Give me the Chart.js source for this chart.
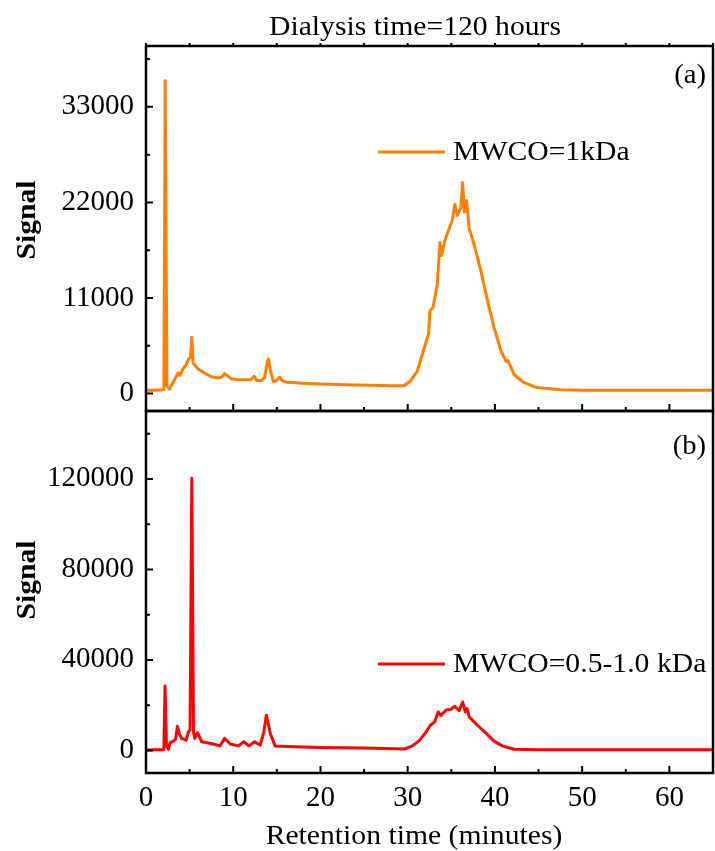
<!DOCTYPE html>
<html>
<head>
<meta charset="utf-8">
<script src="https://cdn.jsdelivr.net/npm/chart.js@4"></script>
<style>
  body { margin: 0; background: #fff; }
  #wrap { position: relative; width: 715px; height: 851px; }
  canvas { position: absolute; left: 0; }
  #topChart { top: 0; }
  #bottomChart { top: 409px; }
</style>
</head>
<body>
<div id="wrap">
  <canvas id="topChart" width="715" height="413"></canvas>
  <canvas id="bottomChart" width="715" height="442"></canvas>
</div>
<script>
// Retention time (minutes) and signal for MWCO=1kDa, panel (a)
const timeA = [0, 1, 2.05, 2.2, 2.4, 2.7, 3.2, 3.5, 3.7, 3.9, 4.2, 4.6, 4.9, 5.1, 5.25, 5.4, 5.6, 6.0, 6.5, 7.0, 7.6, 8.3, 8.7, 9.0, 9.4, 9.8, 10.5, 11.2, 12.0, 12.4, 12.7, 13.2, 13.6, 13.9, 14.05, 14.3, 14.6, 15.0, 15.3, 15.6, 16.2, 18, 20, 22, 24, 26, 28, 29.6, 30.3, 31.1, 31.8, 32.4, 32.55, 32.9, 33.4, 33.7, 33.9, 34.25, 34.75, 35.1, 35.4, 35.7, 36.1, 36.3, 36.5, 36.75, 37.05, 37.6, 38.4, 39.15, 39.9, 40.7, 41.3, 41.5, 42.2, 43.3, 44.8, 47.6, 50, 55, 60, 65];
const signalA = [400, 400, 450, 36000, 900, 500, 1500, 2000, 2400, 2100, 2800, 3300, 4000, 4200, 6500, 3500, 3300, 2800, 2500, 2200, 1900, 1800, 1900, 2300, 2000, 1700, 1600, 1600, 1600, 2000, 1500, 1500, 1800, 3600, 4000, 2500, 1400, 1500, 1900, 1500, 1300, 1200, 1100, 1050, 1000, 950, 900, 900, 1450, 2600, 4900, 6900, 9500, 9900, 12600, 17400, 15900, 17600, 19000, 19900, 21800, 20500, 21400, 24300, 20900, 22200, 19000, 17200, 14100, 10700, 7600, 4900, 3700, 3800, 2200, 1300, 700, 450, 400, 400, 380, 380];

// Retention time (minutes) and signal for MWCO=0.5-1.0 kDa, panel (b)
const timeB = [0, 1, 2.05, 2.18, 2.35, 2.57, 2.76, 3.1, 3.4, 3.6, 3.85, 4.1, 4.6, 4.87, 5.05, 5.25, 5.45, 5.6, 5.9, 6.4, 7.7, 8.5, 9.0, 9.66, 10.6, 11.2, 11.8, 12.45, 13.1, 13.5, 13.8, 14.25, 14.8, 17, 20, 25, 29.6, 30.5, 31.3, 32.0, 32.6, 33.1, 33.5, 33.8, 34.4, 34.9, 35.4, 35.9, 36.3, 36.6, 36.8, 37.05, 38.0, 39.0, 39.9, 40.9, 42.2, 45, 50, 55, 60, 65];
const signalB = [200, 300, 300, 28500, 2000, 500, 3400, 4000, 5000, 10700, 7000, 5300, 4500, 8200, 9000, 120300, 8000, 5300, 7800, 3800, 2800, 2000, 5300, 2800, 2000, 3800, 2000, 3800, 2300, 8000, 15500, 7500, 1900, 1600, 1300, 1000, 600, 1900, 4200, 7500, 11100, 12600, 17000, 15500, 17800, 18100, 19500, 17500, 21400, 17000, 18500, 14800, 11100, 7500, 4100, 1900, 500, 300, 300, 300, 300, 300];

// Tick labels
const xLabels = [0, 10, 20, 30, 40, 50, 60];
const xMinor = [5, 15, 25, 35, 45, 55, 65];
const yLabelsA = [0, 11000, 22000, 33000];
const yMinorA = [5500, 16500, 27500, 38500];
const yLabelsB = [0, 40000, 80000, 120000];
const yMinorB = [20000, 60000, 100000, 140000];

const serif = 'Liberation Serif, Times New Roman, serif';
const tickFont = { family: serif, size: 29 };

function toPoints(xs, ys) {
    return xs.map((t, i) => ({ x: t, y: ys[i] }));
}

function buildTicks(major, minor) {
    return major.map(v => ({ value: v, isMajor: true }))
        .concat(minor.map(v => ({ value: v, isMajor: false })))
        .sort((a, b) => a.value - b.value);
}

// Box frame and inward tick marks
const framePlugin = {
    id: 'frame',
    afterDatasetsDraw(chart, args, opts) {
        const { ctx, chartArea: a, scales: { x, y } } = chart;
        ctx.save();
        ctx.strokeStyle = '#000';
        ctx.lineWidth = 2.5;
        ctx.strokeRect(a.left, a.top, a.right - a.left, a.bottom - a.top);
        ctx.lineWidth = 2;
        ctx.beginPath();
        y.ticks.forEach(t => {
            const py = y.getPixelForValue(t.value);
            ctx.moveTo(a.left, py);
            ctx.lineTo(a.left + (t.isMajor ? 7 : 4), py);
        });
        x.ticks.forEach(t => {
            const px = x.getPixelForValue(t.value);
            ctx.moveTo(px, a.bottom);
            ctx.lineTo(px, a.bottom - (t.isMajor ? 7 : 4));
            if (opts.topTicks) {
                ctx.moveTo(px, a.top);
                ctx.lineTo(px, a.top - 3);
            }
        });
        ctx.stroke();
        ctx.restore();
    }
};

// Titles, panel letters and the legend drawn at fixed spots
const textPlugin = {
    id: 'texts',
    afterDraw(chart, args, opts) {
        const ctx = chart.ctx;
        const ds = chart.data.datasets[0];
        const stretch = 1.06; // reference text runs a bit wide
        ctx.save();
        ctx.fillStyle = '#000';
        ctx.textBaseline = 'middle';

        (opts.items || []).forEach(it => {
            ctx.save();
            ctx.font = (it.bold ? 'bold ' : '') + it.size + 'px ' + serif;
            ctx.textAlign = it.align || 'center';
            ctx.translate(it.x, it.y);
            if (it.rotate) {
                ctx.rotate(-Math.PI / 2);
            }
            ctx.scale(stretch, 1);
            ctx.fillText(it.text, 0, 0);
            ctx.restore();
        });

        // legend
        const lg = opts.legend;
        ctx.strokeStyle = ds.borderColor;
        ctx.lineWidth = 3;
        ctx.beginPath();
        ctx.moveTo(lg.x, lg.y);
        ctx.lineTo(lg.x + 67, lg.y);
        ctx.stroke();
        ctx.font = '28px ' + serif;
        ctx.textAlign = 'left';
        ctx.translate(lg.x + 75, lg.y + 1);
        ctx.scale(stretch, 1);
        ctx.fillText(ds.label, 0, 0);
        ctx.restore();
    }
};

function makeChart(id, opt) {
    return new Chart(document.getElementById(id), {
        type: 'line',
        data: {
            datasets: [{
                label: opt.label,
                data: opt.points,
                borderColor: opt.color,
                borderWidth: 3,
                pointRadius: 0,
                tension: 0,
                borderJoinStyle: 'round'
            }]
        },
        options: {
            responsive: false,
            animation: false,
            layout: { padding: opt.padding },
            plugins: {
                legend: { display: false },
                tooltip: { enabled: false },
                frame: { topTicks: opt.topTicks },
                texts: { items: opt.texts, legend: opt.legend }
            },
            scales: {
                x: {
                    type: 'linear',
                    min: 0,
                    max: 65,
                    afterBuildTicks: s => { s.ticks = buildTicks(xLabels, xMinor); },
                    afterFit: s => {
                        s.height = opt.xHeight;
                        s.paddingLeft = 0;
                        s.paddingRight = 0;
                    },
                    ticks: {
                        display: opt.xLabels,
                        autoSkip: false,
                        maxRotation: 0,
                        padding: 8,
                        color: '#000',
                        font: tickFont,
                        callback: v => xLabels.includes(v) ? String(v) : ''
                    },
                    grid: { display: false, drawTicks: false },
                    border: { display: false }
                },
                y: {
                    type: 'linear',
                    min: opt.yMin,
                    max: opt.yMax,
                    afterBuildTicks: s => { s.ticks = buildTicks(opt.yLabels, opt.yMinor); },
                    afterFit: s => {
                        s.width = 146;
                        s.paddingTop = 0;
                        s.paddingBottom = 0;
                    },
                    ticks: {
                        autoSkip: false,
                        padding: 12,
                        color: '#000',
                        font: tickFont,
                        callback: v => opt.yLabels.includes(v) ? String(v) : ''
                    },
                    grid: { display: false, drawTicks: false },
                    border: { display: false }
                }
            }
        },
        plugins: [framePlugin, textPlugin]
    });
}

// Panel (a)
makeChart('topChart', {
    label: 'MWCO=1kDa',
    points: toPoints(timeA, signalA),
    color: '#FF8000',
    padding: { top: 46, right: 2, bottom: 2, left: 0 },
    topTicks: true,
    xHeight: 0,
    xLabels: false,
    yMin: -2000,
    yMax: 40000,
    yLabels: yLabelsA,
    yMinor: yMinorA,
    legend: { x: 378, y: 152 },
    texts: [
        { text: 'Dialysis time=120 hours', x: 415, y: 28, size: 28 },
        { text: '(a)', x: 706, y: 76, size: 27, align: 'right' },
        { text: 'Signal', x: 28, y: 220, size: 28, bold: true, rotate: true }
    ]
});

// Panel (b)
makeChart('bottomChart', {
    label: 'MWCO=0.5-1.0 kDa',
    points: toPoints(timeB, signalB),
    color: '#FF0000',
    padding: { top: 2, right: 2, bottom: 0, left: 0 },
    topTicks: false,
    xHeight: 78,
    xLabels: true,
    yMin: -10000,
    yMax: 150000,
    yLabels: yLabelsB,
    yMinor: yMinorB,
    legend: { x: 378, y: 255 },
    texts: [
        { text: '(b)', x: 706, y: 38, size: 27, align: 'right' },
        { text: 'Signal', x: 28, y: 171, size: 28, bold: true, rotate: true },
        { text: 'Retention time (minutes)', x: 414, y: 428, size: 28 }
    ]
});
</script>
</body>
</html>
